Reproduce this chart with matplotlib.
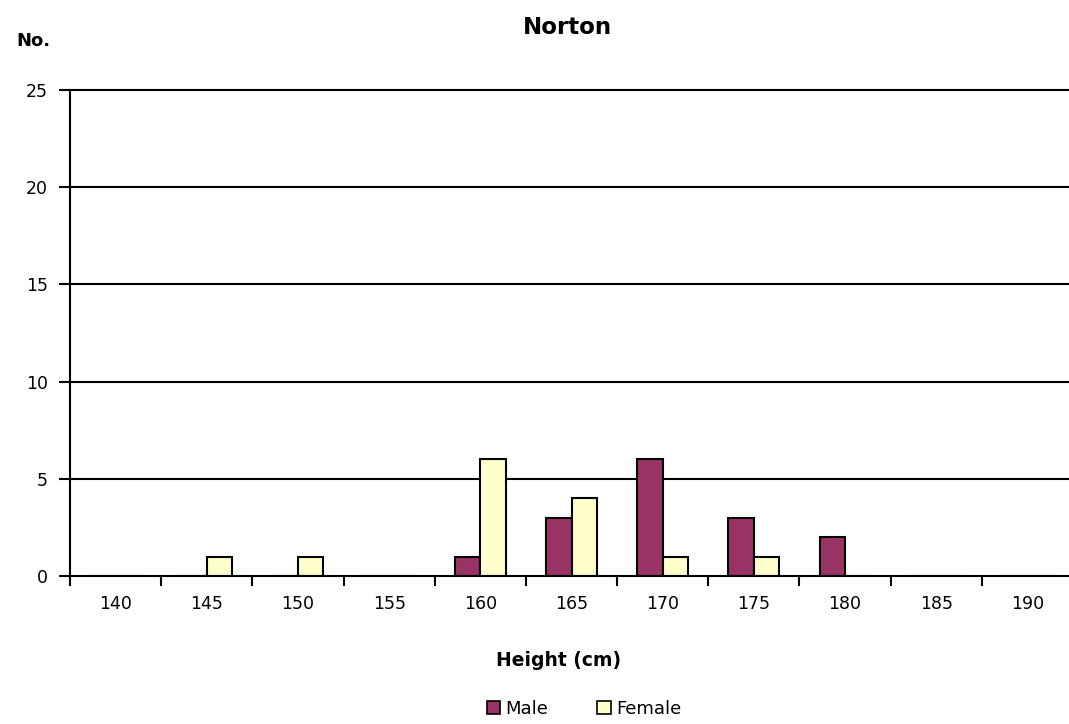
import matplotlib
matplotlib.use("Agg")
import matplotlib.pyplot as plt
import numpy as np
from matplotlib.patches import Patch

# Height classes (cm) and counts per class
heights = [140, 145, 150, 155, 160, 165, 170, 175, 180, 185, 190]
male = [0, 0, 0, 0, 1, 3, 6, 3, 2, 0, 0]
female = [0, 1, 1, 0, 6, 4, 1, 1, 0, 0, 0]
y_ticks = [0, 5, 10, 15, 20, 25]

male_color = "#993366"
female_color = "#FFFFCC"

plt.rcParams["font.family"] = ["DejaVu Sans"]

W, H = 1069, 724
fig = plt.figure(figsize=(W / 100, H / 100), dpi=100)
ax = fig.add_axes([70 / W, 1 - 576 / H, 1003 / W, 486 / H])

x = np.arange(len(heights))
bw = 0.28
ax.bar(x - bw / 2, male, bw, color=male_color, edgecolor="black", linewidth=1.5, zorder=3)
ax.bar(x + bw / 2, female, bw, color=female_color, edgecolor="black", linewidth=1.5, zorder=3)

ax.set_xlim(-0.5, len(heights) - 0.5)
ax.set_ylim(0, 25)

# Category labels centred, tick marks on the class boundaries
ax.set_xticks(x)
ax.set_xticklabels([str(h) for h in heights], fontsize=12.5)
ax.tick_params(axis="x", which="major", length=0, pad=14)
ax.set_xticks(np.arange(-0.5, len(heights), 1.0), minor=True)
ax.tick_params(axis="x", which="minor", length=7, width=1.5, direction="out", color="black")

ax.set_yticks(y_ticks)
ax.set_yticklabels([str(v) for v in y_ticks], fontsize=12.5)
ax.tick_params(axis="y", length=8, width=1.5, pad=8, direction="out")

# Horizontal value lines
for v in y_ticks[1:]:
    ax.axhline(v, color="black", linewidth=1.5, zorder=1, clip_on=False)
for s in ["top", "right"]:
    ax.spines[s].set_visible(False)
for s in ["left", "bottom"]:
    ax.spines[s].set_linewidth(1.5)
    ax.spines[s].set_zorder(4)

fig.text(567 / W, 1 - 28 / H, "Norton", fontsize=16.5, fontweight="bold", ha="center", va="center")
fig.text(33 / W, 1 - 41 / H, "No.", fontsize=13, fontweight="bold", ha="center", va="center")
fig.text(559 / W, 1 - 661 / H, "Height (cm)", fontsize=13.5, fontweight="bold", ha="center", va="center")

handles = [Patch(facecolor=male_color, edgecolor="black", linewidth=1.2, label="Male"),
           Patch(facecolor=female_color, edgecolor="black", linewidth=1.2, label="Female")]
fig.legend(handles=handles, loc="center", bbox_to_anchor=(584 / W, 1 - 709 / H), ncol=2,
           frameon=False, fontsize=13, handlelength=0.75, handleheight=0.75,
           handletextpad=0.3, columnspacing=2.7)

fig.savefig("out.png", dpi=100)
